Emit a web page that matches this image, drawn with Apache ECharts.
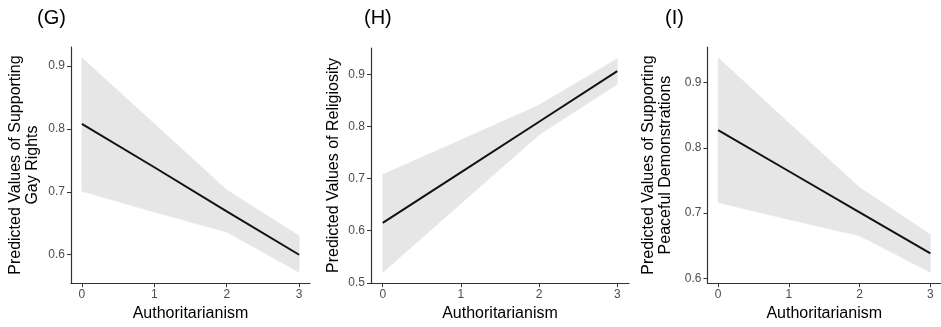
<!DOCTYPE html>
<html>
<head>
<meta charset="utf-8">
<script src="https://cdn.jsdelivr.net/npm/echarts@6/dist/echarts.min.js"></script>
<style>
html,body{margin:0;padding:0;background:#fff;}
#chart{width:941px;height:327px;}
</style>
</head>
<body>
<div id="chart"></div>
<script>
// x values (Authoritarianism)
var xValues = [0, 1, 2, 3];
var xTicks = [0, 1, 2, 3];

// (G) Predicted Values of Supporting Gay Rights
var gFit   = [0.808, 0.739, 0.669, 0.600];
var gLower = [0.701, 0.668, 0.636, 0.572];
var gUpper = [0.913, 0.808, 0.703, 0.630];
var gTicks = [0.6, 0.7, 0.8, 0.9];

// (H) Predicted Values of Religiosity
var hFit   = [0.615, 0.712, 0.809, 0.906];
var hLower = [0.520, 0.652, 0.784, 0.881];
var hUpper = [0.708, 0.774, 0.841, 0.930];
var hTicks = [0.5, 0.6, 0.7, 0.8, 0.9];

// (I) Predicted Values of Supporting Peaceful Demonstrations
var iFit   = [0.827, 0.764, 0.701, 0.638];
var iLower = [0.716, 0.690, 0.665, 0.609];
var iUpper = [0.938, 0.838, 0.739, 0.667];
var iTicks = [0.6, 0.7, 0.8, 0.9];

var panelLabels = ['(G)', '(H)', '(I)'];
var yTitles = ['Predicted Values of Supporting\nGay Rights', 'Predicted Values of Religiosity', 'Predicted Values of Supporting\nPeaceful Demonstrations'];
var xTitle = 'Authoritarianism';

var FONT = '"Liberation Sans", Arial, Helvetica, sans-serif';

function pairs(xs, ys) { return xs.map(function (x, i) { return [x, ys[i]]; }); }
// band segments: [x0, lo0, hi0, x1, lo1, hi1]
function segments(xs, lo, hi) {
  var out = [];
  for (var i = 0; i < xs.length - 1; i++) {
    out.push([xs[i], lo[i], hi[i], xs[i + 1], lo[i + 1], hi[i + 1]]);
  }
  return out;
}
function expand(lo, hi) {
  var mn = Math.min.apply(null, lo), mx = Math.max.apply(null, hi);
  var d = (mx - mn) * 0.05;
  return [mn - d, mx + d];
}

var panels = [
  {fit: gFit, lo: gLower, hi: gUpper, ticks: gTicks, grid: {left: 71, top: 47, width: 239, height: 238}, gap: 30},
  {fit: hFit, lo: hLower, hi: hUpper, ticks: hTicks, grid: {left: 371, top: 48, width: 258, height: 237}, gap: 29},
  {fit: iFit, lo: iLower, hi: iUpper, ticks: iTicks, grid: {left: 707.5, top: 47, width: 240, height: 238}, gap: 33}
];
var labelPos = [{left: 37, top: 8}, {left: 364, top: 8}, {left: 665, top: 8}];

var BAND = '#e6e6e6';

function renderBand(params, api) {
  var p0l = api.coord([api.value(0), api.value(1)]);
  var p0h = api.coord([api.value(0), api.value(2)]);
  var p1l = api.coord([api.value(3), api.value(4)]);
  var p1h = api.coord([api.value(3), api.value(5)]);
  return {
    type: 'polygon',
    shape: {points: [p0l, p1l, p1h, p0h]},
    style: {fill: BAND, stroke: BAND, lineWidth: 0.6}
  };
}

var option = {
  animation: false,
  backgroundColor: '#ffffff',
  textStyle: {fontFamily: FONT},
  title: panels.map(function (p, k) {
    return {text: panelLabels[k], left: labelPos[k].left, top: labelPos[k].top, padding: 0,
      textStyle: {fontSize: 20, fontWeight: 'normal', color: '#000', fontFamily: FONT}};
  }),
  grid: panels.map(function (p) { return p.grid; }),
  xAxis: panels.map(function (p, k) {
    return {
      type: 'value', gridIndex: k, min: -0.15, max: 3.15,
      name: xTitle, nameLocation: 'middle', nameGap: 19,
      nameTextStyle: {fontSize: 16, color: '#000', fontFamily: FONT},
      axisLine: {show: true, onZero: false, lineStyle: {color: '#333', width: 1.2}},
      axisTick: {show: true, length: 4, customValues: xTicks, lineStyle: {color: '#333', width: 1}},
      axisLabel: {customValues: xTicks, margin: 6, fontSize: 12, color: '#4d4d4d', fontFamily: FONT},
      splitLine: {show: false}
    };
  }),
  yAxis: panels.map(function (p, k) {
    var r = expand(p.lo, p.hi);
    return {
      type: 'value', gridIndex: k, min: r[0], max: r[1],
      name: yTitles[k], nameLocation: 'middle', nameGap: p.gap,
      nameTextStyle: {fontSize: 16, color: '#000', lineHeight: 17, fontFamily: FONT},
      axisLine: {show: true, onZero: false, lineStyle: {color: '#333', width: 1.2}},
      axisTick: {show: true, length: 4, customValues: p.ticks, lineStyle: {color: '#333', width: 1}},
      axisLabel: {customValues: p.ticks, margin: 6, fontSize: 12, color: '#4d4d4d', fontFamily: FONT,
        showMinLabel: true, showMaxLabel: true, hideOverlap: false,
        formatter: function (v) { return v.toFixed(1); }},
      splitLine: {show: false}
    };
  }),
  series: []
};

panels.forEach(function (p, k) {
  option.series.push({
    type: 'custom', xAxisIndex: k, yAxisIndex: k, silent: true, clip: true, z: 1,
    renderItem: renderBand,
    encode: {x: [0, 3], y: [1, 2, 4, 5]},
    data: segments(xValues, p.lo, p.hi)
  });
  option.series.push({
    type: 'line', xAxisIndex: k, yAxisIndex: k,
    data: pairs(xValues, p.fit), symbol: 'none', lineStyle: {color: '#111', width: 2}, z: 5
  });
});

var chart = echarts.init(document.getElementById('chart'), null, {renderer: 'canvas'});
chart.setOption(option);
</script>
</body>
</html>
